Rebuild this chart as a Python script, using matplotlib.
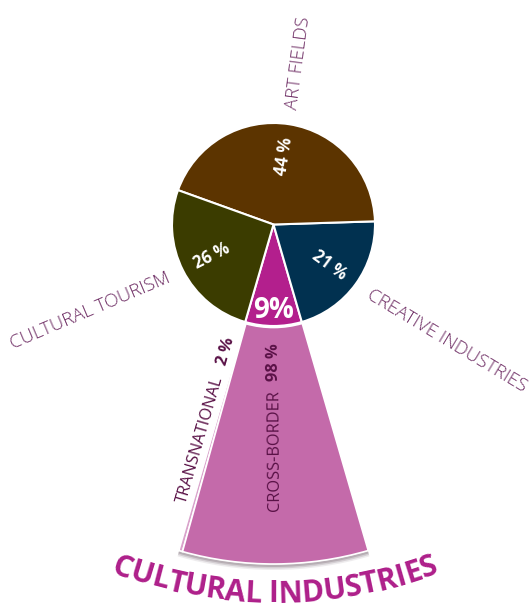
import numpy as np
import matplotlib.pyplot as plt
from matplotlib.patches import Wedge
from matplotlib.font_manager import FontProperties

plt.rcParams['font.family'] = ['Open Sans', 'DejaVu Sans']

# main pie, counterclockwise starting with the bottom slice
sectors = ["CULTURAL INDUSTRIES", "CREATIVE INDUSTRIES", "ART FIELDS", "CULTURAL TOURISM"]
shares = [9, 21, 44, 26]
colors = ["#B31F8D", "#013150", "#5C3400", "#3B3C00"]

# split of the cultural industries slice
sub_labels = ["TRANSNATIONAL", "CROSS-BORDER"]
sub_shares = [2, 98]
sub_colors = ["#D9A3CB", "#C46AAA"]

title = "CULTURAL INDUSTRIES"

W, H = 530, 610
fig = plt.figure(figsize=(W / 100, H / 100), dpi=100)
ax = fig.add_axes([0, 0, 1, 1])

cx, cy, R = 273.5, 385.5, 101.5
R_out = 339.5
label_col = "#6E2D64"
sub_col = "#5A1247"
label_size = 13.3
sub_size = 11.8
start = 270 - shares[0] * 3.6 / 2

wedges, _ = ax.pie(shares, colors=colors, startangle=start, counterclock=True,
                   center=(cx, cy), radius=R,
                   wedgeprops=dict(edgecolor="white", linewidth=1.5))


def polar(r, ang, off=0.0):
    a = np.radians(ang)
    p = np.radians(ang - 90)
    return cx + r * np.cos(a) + off * np.cos(p), cy + r * np.sin(a) + off * np.sin(p)


def radial_rot(ang):
    ang = (ang + 180) % 360 - 180
    if abs(ang) <= 90:
        return ang
    return ang - 180 if ang > 0 else ang + 180


# outer labels: rotation tweak per slice
rot_tweak = {"CREATIVE INDUSTRIES": 5, "ART FIELDS": 1.5, "CULTURAL TOURISM": -4}

for i, (w, name, val) in enumerate(zip(wedges, sectors, shares)):
    mid = (w.theta1 + w.theta2) / 2
    if i == 0:
        x, y = polar(86, mid)
        ax.text(x, y, f"{val}%", color="white", fontsize=20, fontweight="bold",
                ha="center", va="center")
        continue
    x, y = polar(0.68 * R, mid)
    ax.text(x, y, f"{val} %", color="white", fontsize=12, fontweight="bold",
            ha="center", va="center", rotation=radial_rot(mid), rotation_mode="anchor")
    norm = (mid + 180) % 360 - 180
    x, y = polar(117, mid)
    ax.text(x, y, name, color=label_col, fontsize=label_size, fontweight="light",
            ha="left" if abs(norm) < 90 else "right", va="center",
            rotation=radial_rot(mid) + rot_tweak[name], rotation_mode="anchor")

# exploded breakdown of the cultural industries slice
span = shares[0] * 3.6
for k, off in enumerate([4.5, 3.0, 1.5]):
    ax.add_patch(Wedge((cx, cy - 1.5), R_out + off, start, start + span, width=off + 1,
                       facecolor="#7a6a74", edgecolor="none", alpha=0.12 + 0.1 * k))
t0 = start
sub_ranges = []
for val, col in zip(sub_shares, sub_colors):
    t1 = t0 + span * val / 100
    ax.add_patch(Wedge((cx, cy), R_out, t0, t1, width=R_out - R - 1.5,
                       facecolor=col, edgecolor="white", linewidth=1.2))
    sub_ranges.append((t0, t1))
    t0 = t1

# cross-border label inside its wedge
mid = sum(sub_ranges[1]) / 2
x, y = polar(166, mid)
ax.text(x, y, sub_labels[1], color=sub_col, fontsize=sub_size, ha="right", va="center",
        rotation=mid - 180, rotation_mode="anchor")
x, y = polar(119, mid)
ax.text(x, y, f"{sub_shares[1]} %", color=sub_col, fontsize=sub_size, fontweight="bold",
        ha="right", va="center", rotation=mid - 180, rotation_mode="anchor")

# transnational label along the outer side of its strip
edge = sub_ranges[0][0]
x, y = polar(161, edge, 10)
ax.text(x, y, sub_labels[0], color=sub_col, fontsize=sub_size, ha="right", va="center",
        rotation=edge - 180, rotation_mode="anchor")
x, y = polar(121, edge, 10)
ax.text(x, y, f"{sub_shares[0]} %", color=sub_col, fontsize=sub_size, fontweight="bold",
        ha="right", va="center", rotation=edge - 180, rotation_mode="anchor")

# curved title under the wedge
fp = FontProperties(family="Open Sans", weight="bold", size=21.5)
renderer = fig.canvas.get_renderer()


def adv(s):
    wi = renderer.get_text_width_height_descent(s + "I", fp, ismath=False)[0]
    return wi - renderer.get_text_width_height_descent("I", fp, ismath=False)[0]


acx, acy, R_t = 275, H - 139, 463.5
total = adv(title)
for i, ch in enumerate(title):
    if ch == " ":
        continue
    c = 0.97 * ((adv(title[:i]) + adv(title[:i + 1])) / 2 - total / 2)
    phi = c / (R_t - 11)
    ax.text(acx + R_t * np.sin(phi), acy - R_t * np.cos(phi), ch, fontproperties=fp,
            color="#AE1F8A", ha="center", va="baseline",
            rotation=np.degrees(phi), rotation_mode="anchor")

ax.set_xlim(0, W)
ax.set_ylim(0, H)
ax.set_aspect("equal")
ax.axis("off")
fig.savefig("out.png", dpi=100)
